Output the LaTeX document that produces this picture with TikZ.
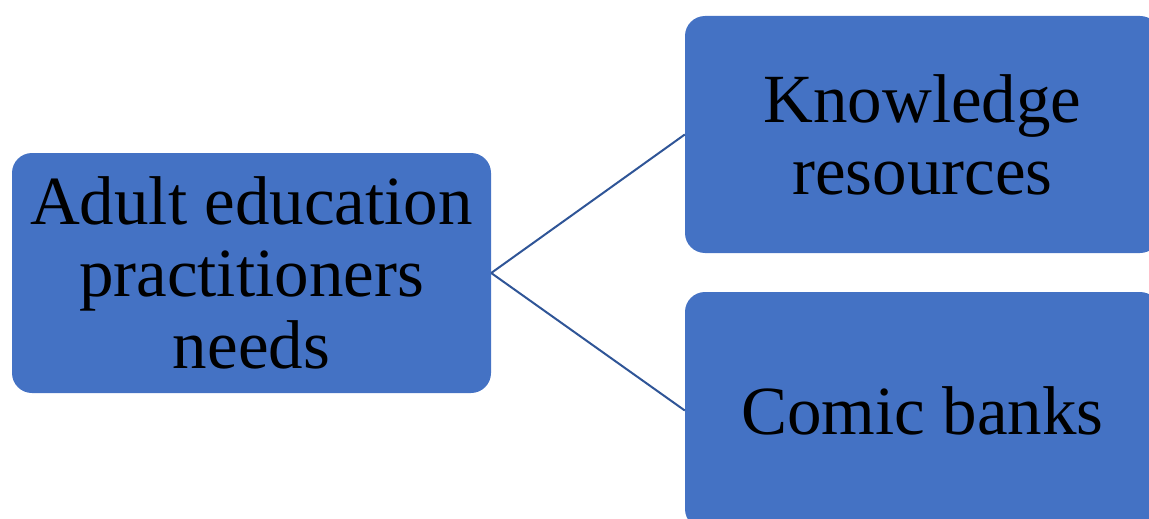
\documentclass[tikz,border=0pt]{standalone}
\usepackage{fontspec}
\setmainfont{Liberation Serif}
\definecolor{boxfill}{HTML}{4472C4}
\definecolor{linkcol}{HTML}{2F5597}
\begin{document}
\begin{tikzpicture}[x=1pt,y=-1pt,
  box/.style={draw=none, fill=boxfill, rounded corners=20pt, align=center,
    font=\fontsize{69}{72}\selectfont, text=black, inner sep=0pt},
  link/.style={draw=linkcol, line width=2pt}]
\useasboundingbox (0,0) rectangle (1149,519);
\clip (0,0) rectangle (1149,519);
\node[box, minimum width=479pt, minimum height=240pt] (a) at (251.5,273) {Adult education\\practitioners\\needs};
\node[box, minimum width=475pt, minimum height=237pt] (k) at (922.5,134.5) {Knowledge\\resources};
\node[box, minimum width=475pt, minimum height=237pt] (c) at (922.5,410.5) {Comic banks};
\draw[link] (a.east) -- (k.west);
\draw[link] (a.east) -- (c.west);
\end{tikzpicture}
\end{document}
